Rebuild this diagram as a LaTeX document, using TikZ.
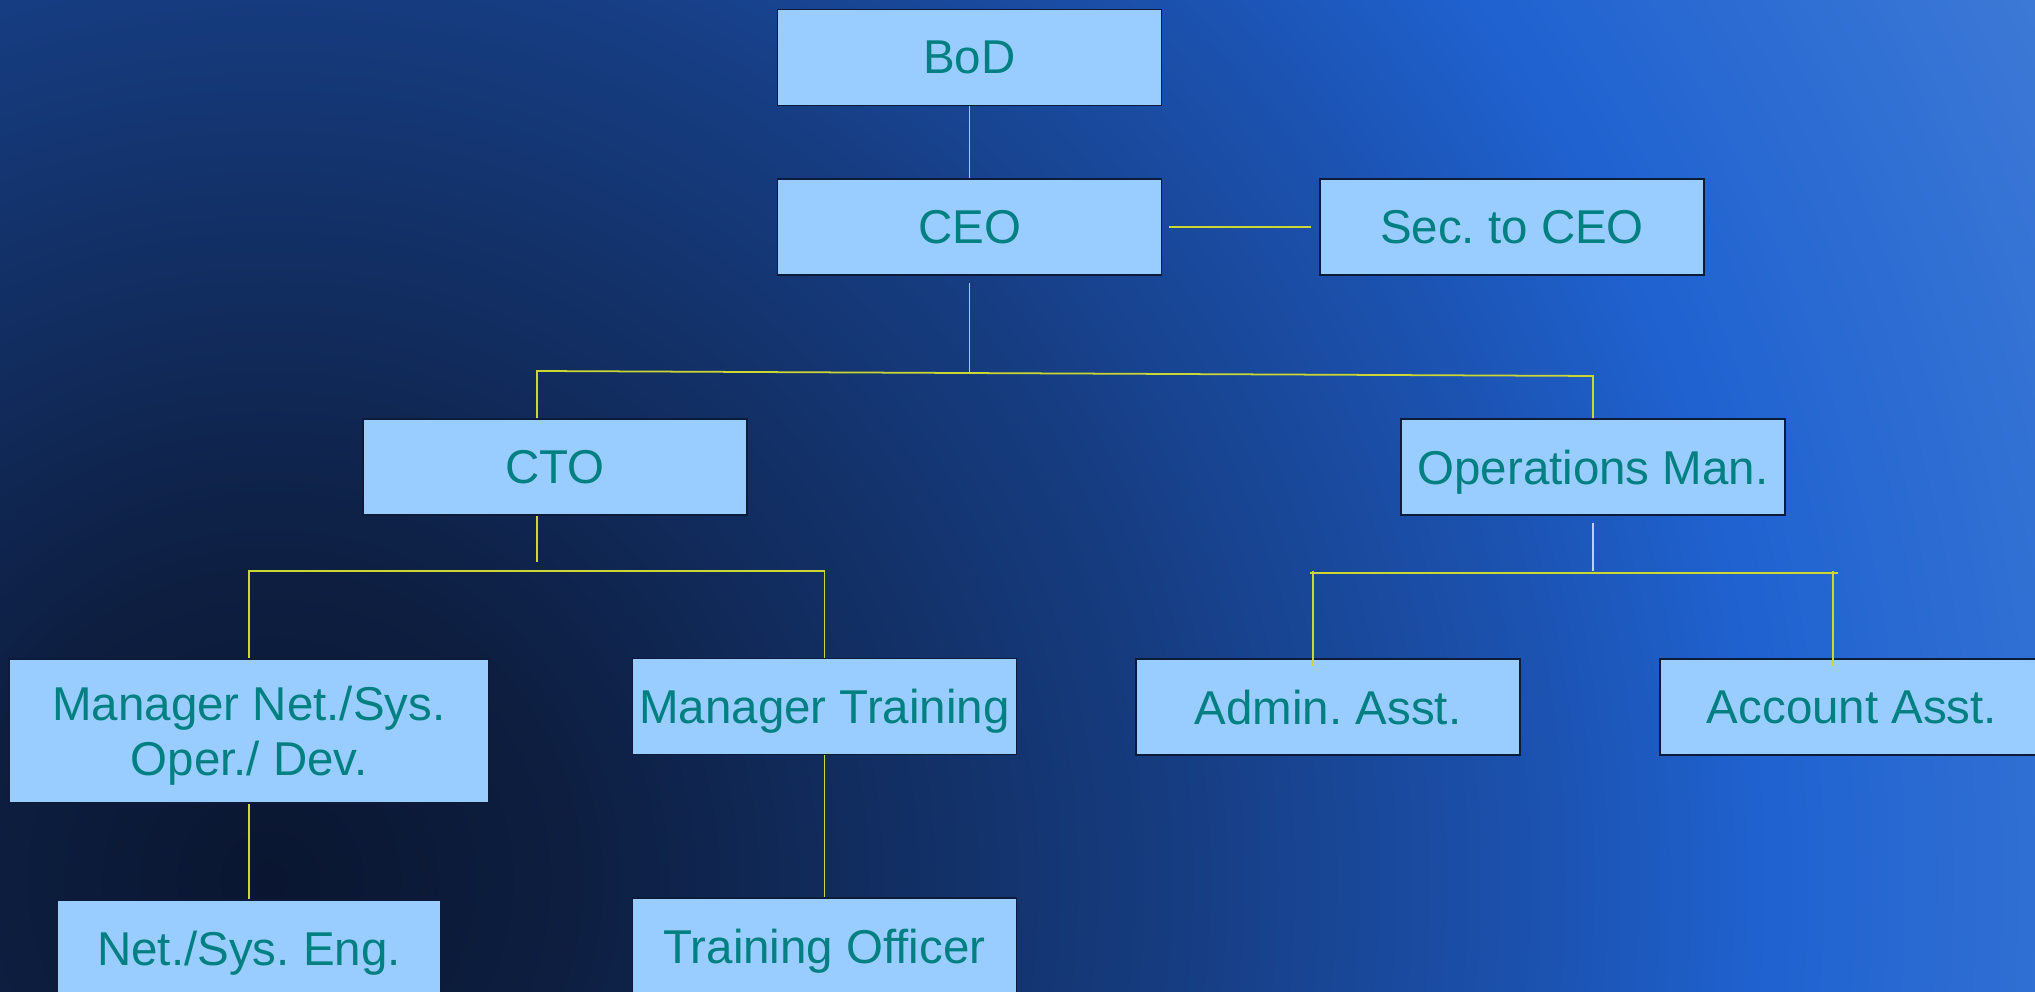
\documentclass[tikz,border=0pt]{standalone}
\usepackage{fontspec}
\setmainfont{Liberation Sans}
\usetikzlibrary{calc}
\frenchspacing
\definecolor{boxfill}{HTML}{99CCFF}
\definecolor{boxtext}{HTML}{008080}
\definecolor{boxline}{HTML}{0D1B3A}
\definecolor{linecol}{RGB}{205,215,50}
\definecolor{palecol}{RGB}{190,210,235}
\definecolor{bgA}{RGB}{10,22,48}
\definecolor{bgB}{RGB}{13,30,64}
\definecolor{bgC}{RGB}{22,60,128}
\definecolor{bgD}{RGB}{28,84,180}
\definecolor{bgE}{RGB}{31,98,208}
\definecolor{bgF}{RGB}{62,122,214}
\pgfdeclareradialshading{bgshade}{\pgfpoint{0bp}{0bp}}{%
  color(0bp)=(bgA); color(3.4bp)=(bgB); color(10.2bp)=(bgC);
  color(14.8bp)=(bgD); color(17bp)=(bgE); color(22.7bp)=(bgF); color(50bp)=(bgF)}
\tikzset{
  orgbox/.style={draw=boxline, line width=0.45pt, fill=boxfill, text=boxtext,
    minimum width=3.84cm, minimum height=0.96cm, inner sep=0pt, align=center,
    text depth=0pt, font=\fontsize{13.5}{15.6}\selectfont},
  conn/.style={draw=linecol, line width=0.5pt},
  paleconn/.style={draw=palecol, line width=0.4pt}
}
\begin{document}
\begin{tikzpicture}[x=0.01cm, y=-0.01cm]
\useasboundingbox (0,0) rectangle (2035,992);
\clip (0,0) rectangle (2035,992);
\shade[shading=bgshade] (270,880) circle (22cm);

% nodes
\node[orgbox] (bod) at (969.5,57.5) {BoD};
\node[orgbox] (ceo) at (969.5,227) {CEO};
\node[orgbox] (sec) at (1512,227) {Sec. to CEO};
\node[orgbox] (cto) at (555,467) {CTO};
\node[orgbox] (ops) at (1593,467) {Operations Man.};
\node[orgbox, minimum width=4.8cm, minimum height=1.44cm] (mgrnet) at (249,731) {Manager Net./Sys.\\Oper./ Dev.};
\node[orgbox] (mgrtrain) at (824.5,706.5) {Manager Training};
\node[orgbox] (admin) at (1328,707) {Admin. Asst.};
\node[orgbox] (acct) at (1852,707) {Account Asst.};
\node[orgbox] (neteng) at (249,948) {Net./Sys. Eng.};
\node[orgbox] (trainoff) at (824.5,946) {Training Officer};

% junction coordinates
\coordinate (hL) at (537,371);
\coordinate (hM) at (969.5,373);
\coordinate (hR) at (1593,376);
\coordinate (c1) at (537,562);
\coordinate (h2) at (537,571);
\coordinate (o1) at (1593,523);
\coordinate (o2) at (1593,571);
\coordinate (h3L) at (1310,573);
\coordinate (h3R) at (1838,573);
\coordinate (a1) at (1313,571);
\coordinate (a2) at (1833,571);
\coordinate (a1e) at (1313,666);
\coordinate (a2e) at (1833,666);

% connectors
\draw[conn] (bod.south) -- (ceo.north);
\draw[conn, shorten <=0.07cm, shorten >=0.08cm] (ceo.east) -- (sec.west);
\draw[conn] ([yshift=-2pt]ceo.south) -- (hM);
\draw[conn] (cto.north -| hL) -- (hL) -- (hR) -- (ops.north);
\draw[conn] (cto.south -| hL) -- (c1);
\draw[conn] (mgrnet.north) |- (h2) -| (mgrtrain.north);
\draw[paleconn] (o1) -- (o2);
\draw[conn] (h3L) -- (h3R);
\draw[conn] (a1) -- (a1e);
\draw[conn] (a2) -- (a2e);
\draw[conn] (mgrnet.south) -- (neteng.north);
\draw[conn] (mgrtrain.south) -- (trainoff.north);
\end{tikzpicture}
\end{document}
